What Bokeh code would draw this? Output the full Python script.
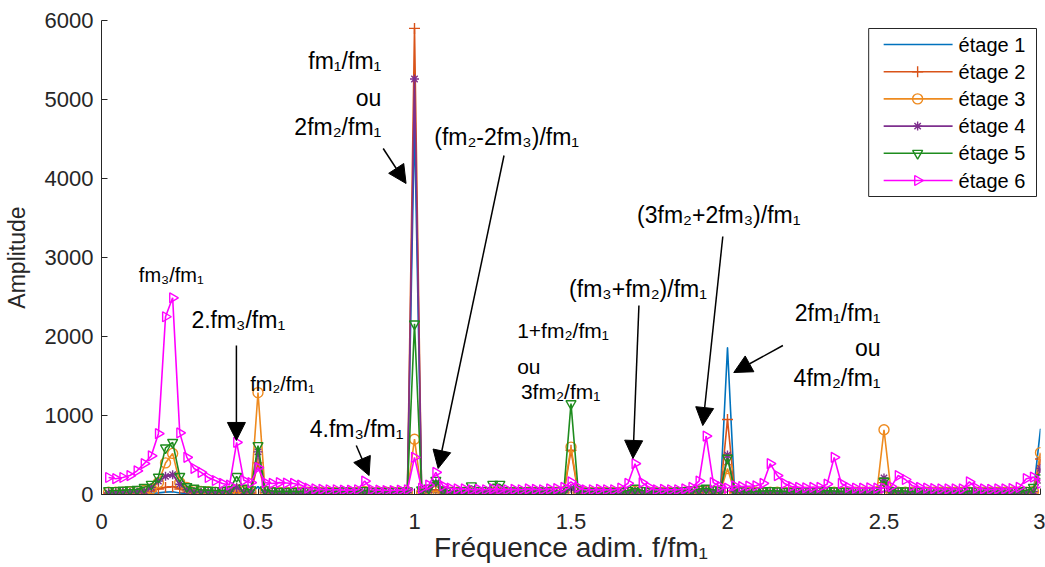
import math
from bokeh.plotting import figure
from bokeh.models import (Range1d, FixedTicker, CustomJSTickFormatter, Label, Arrow,
                          NormalHead)
from bokeh.core.properties import value
from bokeh.embed import file_html
from bokeh.resources import INLINE

# ---------------- data ----------------
# frequency bins f/fm1 (step 1/44, from 1/44 to 3)
freq = [k / 44 for k in range(1, 133)]

etage1 = [10,10,10,10,10,10,15,20,30,35,20,10,10,10,10,10,10,10,15,10,10,100,
          10,10,10,10,10,10,10,10,10,10,10,10,10,10,15,10,10,10,10,10,10,4700,
          15,20,30,15,10,10,10,10,10,10,10,10,10,10,10,10,10,10,10,10,15,70,
          15,10,10,10,10,10,10,10,15,10,10,10,10,10,10,10,15,20,25,20,15,1860,
          20,10,10,10,10,10,10,10,10,10,10,10,10,10,10,10,10,10,10,10,15,40,
          15,10,10,10,10,10,10,10,10,10,10,10,10,10,10,10,10,10,10,15,20,830]

etage2 = [15,15,15,15,15,20,40,70,90,100,70,30,20,15,15,15,15,15,30,15,15,400,
          20,15,15,15,15,15,15,15,15,15,15,15,15,15,20,15,15,15,15,15,20,5900,
          20,30,60,20,15,15,15,15,15,15,15,15,15,15,15,15,15,15,15,15,20,560,
          20,15,15,15,15,15,15,15,20,15,15,15,15,15,15,15,20,25,30,25,20,950,
          25,15,15,15,15,15,15,15,15,15,15,15,15,15,15,15,15,15,15,15,20,150,
          20,15,15,15,15,15,15,15,15,15,15,15,15,15,15,15,15,15,15,15,20,450]

etage3 = [30,30,30,35,40,50,70,150,400,520,150,90,50,40,35,30,30,35,60,40,35,1290,
          40,30,30,30,30,30,30,30,30,30,30,30,30,30,40,30,30,30,30,30,35,700,
          25,20,40,30,30,30,30,30,30,30,30,30,30,30,30,30,30,30,30,30,35,600,
          35,30,30,30,30,30,30,30,40,30,30,30,30,30,30,30,35,40,45,40,35,330,
          35,30,30,30,30,30,30,30,30,30,30,30,30,30,30,30,30,30,30,30,35,820,
          35,30,30,30,30,30,30,30,30,30,30,30,30,30,30,30,30,30,30,30,40,530]

etage4 = [20,20,25,25,30,45,90,170,230,250,130,60,35,30,30,25,30,40,90,40,30,540,
          30,25,20,20,20,20,20,20,20,20,20,20,20,20,30,20,20,20,20,20,25,5260,
          40,60,150,50,25,20,20,25,20,20,25,25,20,20,20,20,20,20,20,20,25,80,
          25,20,20,20,20,20,20,25,40,25,20,20,20,20,20,25,30,40,50,40,30,500,
          40,25,20,20,20,25,25,20,20,20,20,20,20,25,20,20,20,20,20,20,25,210,
          40,25,20,20,20,20,20,20,20,20,20,20,20,20,20,20,20,20,20,25,40,330]

etage5 = [50,50,55,60,65,90,130,220,590,660,230,100,80,60,55,50,50,60,230,80,60,620,
          60,45,40,40,40,40,40,45,40,40,40,45,40,40,50,40,40,40,40,40,45,2160,
          60,80,180,60,45,45,50,110,50,50,130,130,50,45,45,45,45,45,45,45,50,1150,
          60,40,40,40,40,40,40,50,80,50,40,40,40,40,45,50,60,70,80,60,50,460,
          60,45,40,40,45,50,45,40,40,40,40,40,45,50,45,40,40,40,40,40,50,170,
          50,45,45,40,40,40,40,40,40,40,40,45,40,40,40,40,40,40,40,50,90,210]

etage6 = [215,200,215,240,300,390,490,770,2250,2490,780,470,330,280,215,177,140,120,660,180,150,340,
          150,140,150,145,140,120,80,70,65,60,60,55,55,60,170,60,55,50,50,55,60,470,
          80,120,280,110,80,70,70,60,65,60,70,65,60,65,60,70,65,60,70,75,90,160,
          90,60,60,65,60,60,80,140,390,150,90,60,65,60,60,70,90,170,740,150,100,80,
          110,100,105,110,140,390,240,140,100,90,85,90,90,130,470,140,90,80,80,85,80,80,
          100,240,190,110,90,80,75,70,70,70,70,160,80,70,65,70,70,75,90,200,220,140]

series_names = ["étage 1", "étage 2", "étage 3", "étage 4", "étage 5", "étage 6"]
x_ticks = [0, 0.5, 1, 1.5, 2, 2.5, 3]
y_ticks = [0, 1000, 2000, 3000, 4000, 5000, 6000]

# ---------------- styles / layout ----------------
FONT = "Liberation Sans"
TXT = "#262626"
colors = ["#0072BD", "#D95319", "#EE8A1E", "#7E2F8E", "#1E8C1E", "#FF00FF"]
markers = [("dot", 0), ("cross", 0), ("circle", 0), ("asterisk", 0),
           ("inverted_triangle", 0), ("triangle", -math.pi / 2)]
sizes = [4, 11, 10, 9, 10, 10]

W, H = 1045, 567
FL, FR, FT, FB = 100, 1040, 20, 494       # frame edges in pixels
XMIN, XMAX, YMIN, YMAX = 0, 3, 0, 6000

p = figure(width=W, height=H, output_backend="svg", toolbar_location=None,
           x_range=Range1d(XMIN, XMAX), y_range=Range1d(YMIN, YMAX),
           min_border_left=FL, min_border_right=W - FR, min_border_top=FT,
           min_border_bottom=H - FB)
p.outline_line_color = None
p.grid.visible = False
p.background_fill_color = "white"

fmt = CustomJSTickFormatter(code="return tick.toString();")
for ax, ticks in ((p.xaxis[0], x_ticks), (p.yaxis[0], y_ticks)):
    ax.ticker = FixedTicker(ticks=ticks)
    ax.formatter = fmt
    ax.major_tick_in = 6
    ax.major_tick_out = 0
    ax.minor_tick_line_color = None
    ax.axis_line_color = TXT
    ax.major_tick_line_color = TXT
    ax.major_label_text_font = FONT
    ax.major_label_text_font_size = "22px"
    ax.major_label_text_color = TXT
    ax.axis_label_text_font = FONT
    ax.axis_label_text_font_style = "normal"
    ax.axis_label_text_color = TXT

p.xaxis.axis_label = "Fréquence adim. f/fm₁"
p.yaxis.axis_label = "Amplitude"
p.xaxis.axis_label_text_font_size = "28px"
p.yaxis.axis_label_text_font_size = "23px"
p.xaxis.major_label_standoff = 19
p.yaxis.major_label_standoff = 8
p.xaxis.axis_label_standoff = 0
p.yaxis.axis_label_standoff = 12

series = [etage1, etage2, etage3, etage4, etage5, etage6]
for name, ys, c, (mk, ang), sz in zip(series_names, series, colors, markers, sizes):
    p.line(freq, ys, line_color=c, line_width=1.6)
    p.scatter(freq, ys, marker=mk, angle=ang, size=sz, line_color=c,
              fill_color=c if mk == "dot" else None, line_width=1.4)

# ---------------- legend (drawn by hand so the ▷ marker keeps its rotation) ----------------
def px2x(px):
    return XMIN + (px - FL) * (XMAX - XMIN) / (FR - FL)

def py2y(py):
    return YMIN + (FB - py) * (YMAX - YMIN) / (FB - FT)

LB_L, LB_R, LB_T, LB_B = 868, 1036, 28, 196
p.quad(left=[px2x(LB_L)], right=[px2x(LB_R)], top=[py2y(LB_T)], bottom=[py2y(LB_B)],
       fill_color="white", line_color=TXT, line_width=1)
for i, (name, c, (mk, ang), sz) in enumerate(zip(series_names, colors, markers, sizes)):
    ry = py2y(44 + 27.2 * i)
    p.line([px2x(883), px2x(952)], [ry, ry], line_color=c, line_width=1.6)
    p.scatter([px2x(917)], [ry], marker=mk, angle=ang, size=sz, line_color=c,
              fill_color=c if mk == "dot" else None, line_width=1.4)
    p.text([px2x(958)], [ry], text=[name], text_font=value(FONT),
           text_font_size=value("20px"), text_color="black", text_baseline="middle",
           text_align="left")

# ---------------- annotations ----------------
def lab(x, y, t, size, align="left", base="alphabetic"):
    p.add_layout(Label(x=x, y=y, text=t, text_font=FONT, text_font_size=size,
                       text_color="black", text_align=align, text_baseline=base))

def arr(x0, y0, x1, y1):
    p.add_layout(Arrow(end=NormalHead(size=18, fill_color="black", line_color="black"),
                       x_start=x0, y_start=y0, x_end=x1, y_end=y1,
                       line_color="black", line_width=1.5))

lab(0.223, 2780, "fm₃/fm₁", "20px", "center")
lab(0.437, 2210, "2.fm₃/fm₁", "23px", "center")
lab(0.578, 1405, "fm₂/fm₁", "20px", "center")
lab(0.815, 830, "4.fm₃/fm₁", "23px", "center")

lab(0.894, 5490, "fm₁/fm₁", "23px", "right")
lab(0.894, 5020, "ou", "23px", "right")
lab(0.894, 4650, "2fm₂/fm₁", "23px", "right")

lab(1.063, 4530, "(fm₂-2fm₃)/fm₁", "23px", "left")

lab(1.328, 2075, "1+fm₂/fm₁", "21px", "left")
lab(1.328, 1625, "ou", "21px", "left")
lab(1.340, 1300, "3fm₂/fm₁", "21px", "left")

lab(1.494, 2600, "(fm₃+fm₂)/fm₁", "23px", "left")
lab(1.711, 3540, "(3fm₂+2fm₃)/fm₁", "23px", "left")

lab(2.489, 2300, "2fm₁/fm₁", "23px", "right")
lab(2.489, 1860, "ou", "23px", "right")
lab(2.489, 1470, "4fm₂/fm₁", "23px", "right")

arr(0.900, 4380, 0.973, 3937)
arr(1.286, 4291, 1.0755, 329)
arr(0.431, 1886, 0.431, 684)
arr(0.814, 620, 0.855, 240)
arr(1.717, 2392, 1.698, 456)
arr(1.985, 3266, 1.921, 873)
arr(2.177, 1886, 2.020, 1544)

open("out.html", "w").write(file_html(p, INLINE))
